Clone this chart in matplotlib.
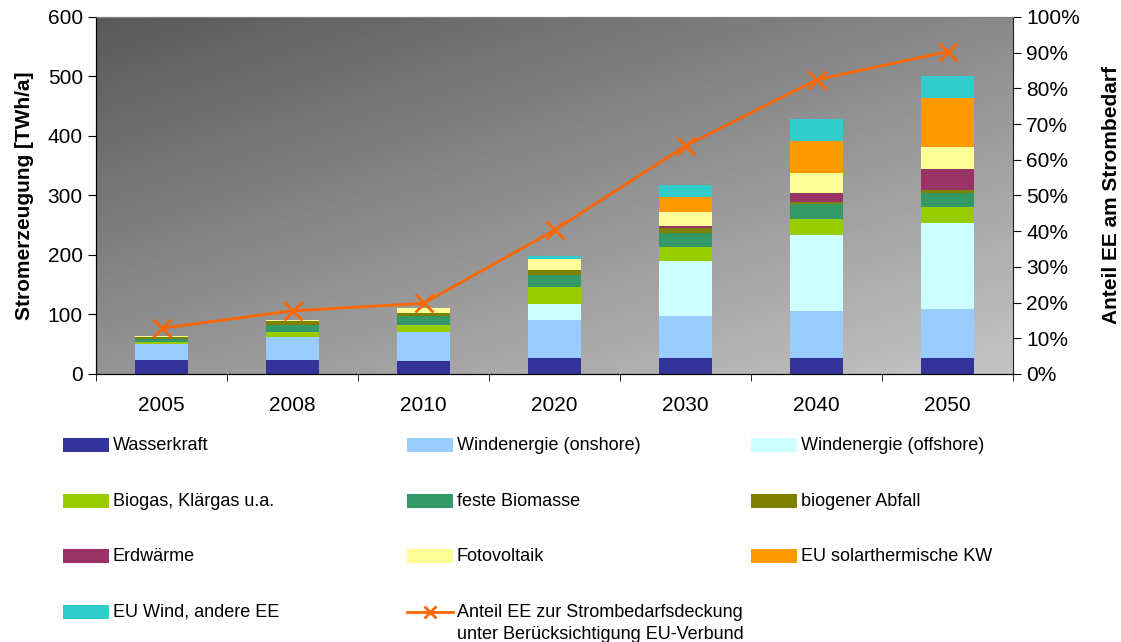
import numpy as np
import matplotlib

matplotlib.use("Agg")
import matplotlib.pyplot as plt
from matplotlib.patches import Rectangle
from matplotlib.lines import Line2D
from matplotlib.ticker import PercentFormatter, FixedLocator

plt.rcParams["font.family"] = ["Liberation Sans", "DejaVu Sans"]

years = ["2005", "2008", "2010", "2020", "2030", "2040", "2050"]

# electricity generation per source, TWh/a
wasserkraft = [23.5, 23.5, 21.8, 26.9, 26.9, 26.9, 26.9]
wind_onshore = [27.0, 38.5, 48.8, 63.9, 70.6, 79.0, 82.3]
wind_offshore = [0.0, 0.0, 0.0, 26.9, 92.4, 127.7, 144.6]
biogas = [3.9, 8.4, 11.8, 28.6, 23.5, 26.9, 26.9]
feste_biomasse = [3.9, 12.0, 15.6, 19.6, 23.0, 25.8, 23.0]
biogener_abfall = [3.9, 6.7, 4.5, 9.0, 9.0, 2.8, 5.5]
erdwaerme = [0.0, 0.0, 0.0, 0.5, 3.3, 15.1, 35.3]
fotovoltaik = [1.7, 2.0, 8.4, 18.5, 23.6, 33.6, 37.0]
eu_solar = [0.0, 0.0, 0.0, 0.0, 25.2, 53.8, 82.9]
eu_wind = [0.0, 0.0, 0.0, 5.0, 20.1, 37.0, 36.9]

# share of renewables in electricity demand (fraction)
anteil_ee = [0.128, 0.177, 0.198, 0.403, 0.639, 0.824, 0.903]

series = [
    ("Wasserkraft", wasserkraft, "#333399"),
    ("Windenergie (onshore)", wind_onshore, "#99CCFF"),
    ("Windenergie (offshore)", wind_offshore, "#CCFFFF"),
    ("Biogas, Klärgas u.a.", biogas, "#99CC00"),
    ("feste Biomasse", feste_biomasse, "#339966"),
    ("biogener Abfall", biogener_abfall, "#808000"),
    ("Erdwärme", erdwaerme, "#993366"),
    ("Fotovoltaik", fotovoltaik, "#FFFF99"),
    ("EU solarthermische KW", eu_solar, "#FF9900"),
    ("EU Wind, andere EE", eu_wind, "#33CCCC"),
]
line_label = "Anteil EE zur Strombedarfsdeckung\nunter Berücksichtigung EU-Verbund"
line_color = "#FF6600"

W, H = 1121, 642
fig = plt.figure(figsize=(W / 100, H / 100), dpi=100)
ax = fig.add_axes([96 / W, 1 - 374 / H, (1013 - 96) / W, (374 - 17) / H])

x = np.arange(len(years))

# grey diagonal gradient behind the bars
ny, nx = 200, 300
u = np.linspace(0, 1, nx)[None, :]
d = np.linspace(0, 1, ny)[:, None]
grad = 0.35 + 0.19 * u + 0.23 * d
ax.imshow(grad, extent=(-0.5, len(years) - 0.5, 0, 600), origin="upper",
          aspect="auto", cmap="gray", vmin=0, vmax=1, zorder=0)

bottom = np.zeros(len(years))
for name, vals, color in series:
    vals = np.asarray(vals)
    ax.bar(x, vals, width=0.41, bottom=bottom, color=color, zorder=2,
           linewidth=0)
    bottom += vals

ax.set_xlim(-0.5, len(years) - 0.5)
ax.set_ylim(0, 600)
ax.set_yticks(range(0, 601, 100))
ax.set_xticks(x)
ax.set_xticklabels(years)
ax.xaxis.set_minor_locator(FixedLocator(np.arange(-0.5, len(years), 1.0)))
ax.tick_params(axis="x", which="major", length=0, pad=16, labelsize=15)
ax.tick_params(axis="x", which="minor", length=5, direction="out")
ax.tick_params(axis="y", length=6, direction="out", labelsize=15)
ax.set_ylabel("Stromerzeugung [TWh/a]", fontsize=15, fontweight="bold",
              labelpad=10)
for side in ("left", "bottom"):
    ax.spines[side].set_color("black")
ax.spines["top"].set_color("#808080")
ax.spines["right"].set_visible(False)

ax2 = ax.twinx()
ax2.plot(x, anteil_ee, color=line_color, lw=2, marker="x", markersize=13,
         markeredgewidth=2, zorder=5)
ax2.set_ylim(0, 1)
ax2.set_yticks(np.arange(0, 1.01, 0.1))
ax2.yaxis.set_major_formatter(PercentFormatter(1.0, decimals=0))
ax2.tick_params(axis="y", length=6, direction="out", labelsize=15)
ax2.set_ylabel("Anteil EE am Strombedarf", fontsize=15, fontweight="bold",
               labelpad=16)
ax2.spines["right"].set_color("#202020")
ax2.spines["top"].set_color("#808080")

# legend, three columns laid out row by row
col_x = [63, 407, 751]
row_y = [445, 500.6, 556.2, 611.8]
entries = [(n, c, "patch") for n, _, c in series] + [(line_label, line_color, "line")]


def fx(px):
    return px / W


def fy(py):
    return 1 - py / H


for i, (name, color, kind) in enumerate(entries):
    cx = col_x[i % 3]
    cy = row_y[i // 3]
    if kind == "patch":
        fig.add_artist(Rectangle((fx(cx), fy(cy + 7)), 46 / W, 14 / H,
                                 transform=fig.transFigure, color=color,
                                 lw=0))
    else:
        fig.add_artist(Line2D([fx(cx), fx(cx + 46)], [fy(cy), fy(cy)],
                              transform=fig.transFigure, color=color, lw=2))
        fig.add_artist(Line2D([fx(cx + 23)], [fy(cy)],
                              transform=fig.transFigure, color=color,
                              marker="x", markersize=8, markeredgewidth=2))
    for j, line in enumerate(name.split("\n")):
        fig.text(fx(cx + 50), fy(cy + 5 + j * 22), line, fontsize=13,
                 va="baseline", ha="left", color="black")

fig.savefig("out.png", dpi=100)
